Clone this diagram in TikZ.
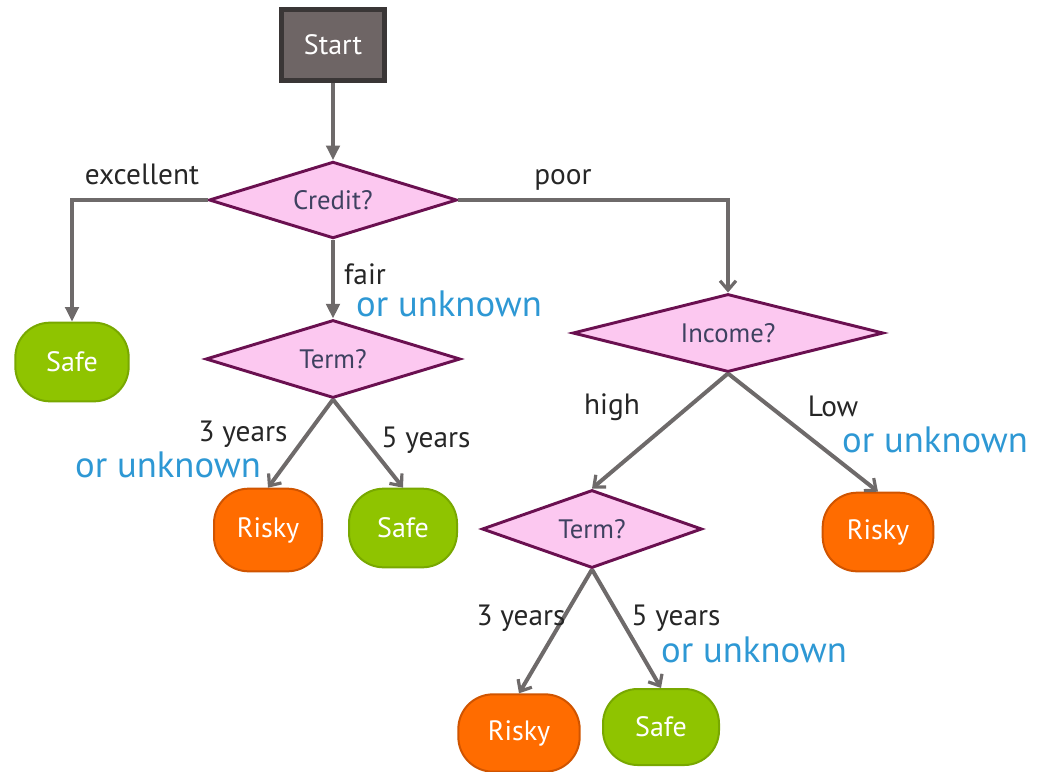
\documentclass[tikz,border=0pt]{standalone}
\usepackage{fontspec}
\setmainfont{PT Sans}
\usetikzlibrary{shapes.geometric,arrows.meta}
\definecolor{startfill}{HTML}{6E6565}
\definecolor{startdraw}{HTML}{3A3636}
\definecolor{qfill}{HTML}{FCC8F0}
\definecolor{qdraw}{HTML}{6A1050}
\definecolor{qtext}{HTML}{3E4160}
\definecolor{safefill}{HTML}{8FC400}
\definecolor{safedraw}{HTML}{78A800}
\definecolor{riskfill}{HTML}{FF6C00}
\definecolor{riskdraw}{HTML}{D05400}
\definecolor{linkgray}{HTML}{6E6A6A}
\definecolor{unkblue}{HTML}{2E98D4}
\begin{document}
\begin{tikzpicture}[x=0.75pt,y=-0.75pt,
  startbox/.style={rectangle,draw=startdraw,fill=startfill,line width=3.8pt,
    minimum width=77pt,minimum height=53pt,inner sep=0pt,
    text=white,font=\fontsize{21}{24}\selectfont},
  question/.style={diamond,draw=qdraw,fill=qfill,line width=2.2pt,inner sep=0pt,
    text=qtext,font=\fontsize{20}{24}\selectfont},
  leaf/.style={rectangle,rounded corners=26pt,line width=1.5pt,inner sep=0pt,
    text=white,font=\fontsize{21}{24}\selectfont},
  safe/.style={leaf,fill=safefill,draw=safedraw},
  risky/.style={leaf,fill=riskfill,draw=riskdraw},
  link/.style={draw=linkgray,line width=3pt},
  solid tip/.style={-{Triangle[length=11pt,width=10pt]}},
  barb tip/.style={-{Straight Barb[length=7pt,width=12pt,line width=2.4pt]}},
  lab/.style={text=black!85,font=\fontsize{22}{24}\selectfont,inner sep=0pt},
  unk/.style={text=unkblue,font=\fontsize{27.5}{30}\selectfont,inner sep=0pt}]
\useasboundingbox (0,0) rectangle (1048,771);

% decision nodes
\node[startbox] (start) at (333,45) {Start};
\node[question,shape aspect=3.23,minimum width=186pt,minimum height=57.5pt] (credit) at (333,200) {Credit?};
\node[question,shape aspect=3.27,minimum width=191pt,minimum height=58.5pt] (term1) at (333,359) {Term?};
\node[question,shape aspect=3.99,minimum width=233pt,minimum height=58.5pt] (income) at (728,333) {Income?};
\node[question,shape aspect=2.82,minimum width=165pt,minimum height=58.5pt] (term2) at (592,529) {Term?};

% leaves
\node[safe,minimum width=85pt,minimum height=59pt] (safe1) at (72,362) {Safe};
\node[risky,minimum width=81pt,minimum height=62pt] (risky1) at (268,530) {Risky};
\node[safe,minimum width=81pt,minimum height=59pt] (safe2) at (403,528) {Safe};
\node[risky,minimum width=83pt,minimum height=59pt] (risky3) at (878,532) {Risky};
\node[risky,minimum width=91pt,minimum height=58pt] (risky4) at (519,733) {Risky};
\node[safe,minimum width=87pt,minimum height=57pt] (safe4) at (661,727) {Safe};

% connectors
\draw[link,solid tip] (start) -- (credit);
\draw[link,solid tip] (credit.west) -| (safe1.north);
\draw[link,solid tip] (credit.south) -- (term1.north);
\draw[link,barb tip] (credit.east) -| (income.north);
\draw[link,barb tip] (term1.south) -- (risky1.north);
\draw[link,barb tip] (term1.south) -- (safe2.north);
\draw[link,barb tip] (income.south) -- (term2.north);
\draw[link,barb tip] (income.south) -- (risky3.north);
\draw[link,barb tip] (term2.south) -- (risky4.north);
\draw[link,barb tip] (term2.south) -- (safe4.north);

% branch labels
\node[lab] (lexc) at (142,174) {excellent};
\node[lab] (lpoor) at (563,180) {poor};
\node[lab] (lfair) at (365,274) {fair};
\node[unk] (ufair) at (449,304) {or unknown};
\node[lab] (l3a) at (243,434) {3 years};
\node[unk] (u3a) at (168,465) {or unknown};
\node[lab] (l5a) at (426,440) {5 years};
\node[lab] (lhigh) at (612,407) {high};
\node[lab] (llow) at (833,406) {Low};
\node[unk] (ulow) at (935,440) {or unknown};
\node[lab] (l3b) at (521,618) {3 years};
\node[lab] (l5b) at (676,618) {5 years};
\node[unk] (u5b) at (754,650) {or unknown};
\end{tikzpicture}
\end{document}
